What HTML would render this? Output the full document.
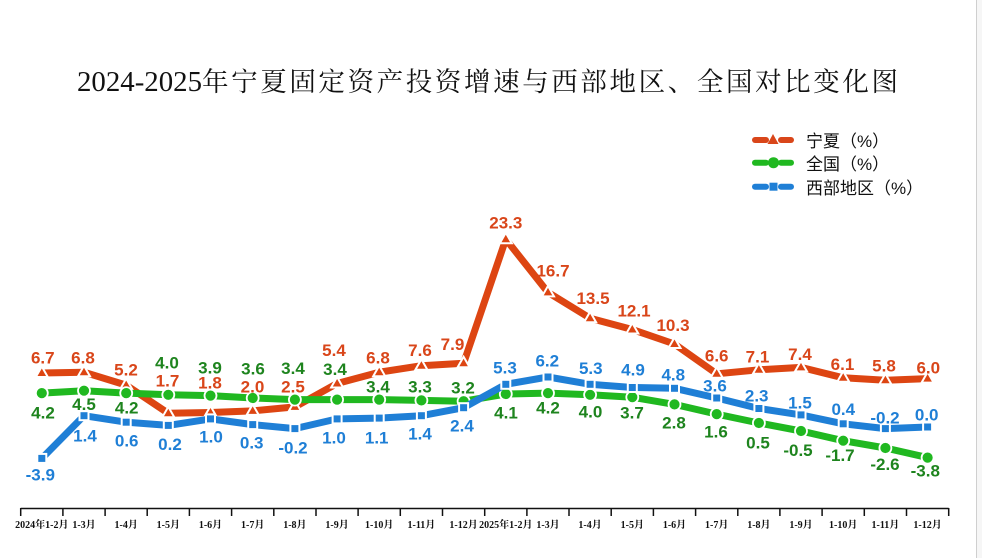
<!DOCTYPE html>
<html>
<head>
<meta charset="utf-8">
<style>
html,body{margin:0;padding:0;background:#fff;}
svg{display:block;}
.lb{font-family:"Liberation Sans","Noto Sans CJK SC",sans-serif;font-weight:bold;font-size:17px;text-anchor:middle;}
.o{fill:#d9461a;}
.g{fill:#1e841e;}
.b{fill:#1f7fd6;}
.tk{font-family:"Liberation Serif","Noto Serif CJK SC",serif;font-weight:bold;font-size:10px;text-anchor:middle;fill:#111;}
.lg{font-family:"Liberation Sans","Noto Sans CJK SC",sans-serif;font-size:17px;fill:#111;}
</style>
</head>
<body>
<svg width="982" height="558" viewBox="0 0 982 558" xmlns="http://www.w3.org/2000/svg">
<rect x="0" y="0" width="982" height="558" fill="#fff"/>
<rect x="977" y="0" width="5" height="558" fill="#f6f6f6"/>
<line x1="976.5" y1="0" x2="976.5" y2="558" stroke="#cfcfcf" stroke-width="1"/>

<!-- Title -->
<text x="77" y="91" font-family="'Liberation Serif','Noto Serif CJK SC',serif" font-size="29" fill="#111" textLength="125" lengthAdjust="spacingAndGlyphs">2024-2025</text>
<text x="202" y="91" font-family="'Liberation Serif','Noto Serif CJK SC',serif" font-size="26.5" fill="#111" textLength="696" lengthAdjust="spacing">年宁夏固定资产投资增速与西部地区、全国对比变化图</text>

<!-- Legend -->
<g stroke-linecap="round" stroke-width="6">
<line x1="755" y1="140" x2="766" y2="140" stroke="#d9461a"/>
<line x1="781" y1="140" x2="791" y2="140" stroke="#d9461a"/>
<polygon points="773,134 778.5,144 767.5,144" fill="#d9461a" stroke="none"/>
<line x1="755" y1="162.7" x2="766" y2="162.7" stroke="#20b820"/>
<line x1="781" y1="162.7" x2="791" y2="162.7" stroke="#20b820"/>
<circle cx="773.5" cy="162.7" r="5.5" fill="#20b820" stroke="none"/>
<line x1="755" y1="186.7" x2="766" y2="186.7" stroke="#1f7fd6"/>
<line x1="781" y1="186.7" x2="791" y2="186.7" stroke="#1f7fd6"/>
<rect x="769.5" y="182.7" width="8" height="8" fill="#1f7fd6" stroke="none"/>
</g>
<text class="lg" x="806" y="147">宁夏（%）</text>
<text class="lg" x="806" y="170">全国（%）</text>
<text class="lg" x="806" y="194">西部地区（%）</text>

<!-- Axis -->
<line x1="20.7" y1="508.5" x2="948.7" y2="508.5" stroke="#111" stroke-width="1.6"/>
<g stroke="#111" stroke-width="1.5">
<line x1="20.7" y1="508" x2="20.7" y2="516"/>
<line x1="62.9" y1="508" x2="62.9" y2="516"/>
<line x1="105.1" y1="508" x2="105.1" y2="516"/>
<line x1="147.2" y1="508" x2="147.2" y2="516"/>
<line x1="189.4" y1="508" x2="189.4" y2="516"/>
<line x1="231.6" y1="508" x2="231.6" y2="516"/>
<line x1="273.8" y1="508" x2="273.8" y2="516"/>
<line x1="316.0" y1="508" x2="316.0" y2="516"/>
<line x1="358.1" y1="508" x2="358.1" y2="516"/>
<line x1="400.3" y1="508" x2="400.3" y2="516"/>
<line x1="442.5" y1="508" x2="442.5" y2="516"/>
<line x1="484.7" y1="508" x2="484.7" y2="516"/>
<line x1="526.9" y1="508" x2="526.9" y2="516"/>
<line x1="569.0" y1="508" x2="569.0" y2="516"/>
<line x1="611.2" y1="508" x2="611.2" y2="516"/>
<line x1="653.4" y1="508" x2="653.4" y2="516"/>
<line x1="695.6" y1="508" x2="695.6" y2="516"/>
<line x1="737.8" y1="508" x2="737.8" y2="516"/>
<line x1="779.9" y1="508" x2="779.9" y2="516"/>
<line x1="822.1" y1="508" x2="822.1" y2="516"/>
<line x1="864.3" y1="508" x2="864.3" y2="516"/>
<line x1="906.5" y1="508" x2="906.5" y2="516"/>
<line x1="948.7" y1="508" x2="948.7" y2="516"/>
</g>
<g class="tk">
<text x="41.8" y="528">2024年1-2月</text>
<text x="84.0" y="528">1-3月</text>
<text x="126.2" y="528">1-4月</text>
<text x="168.3" y="528">1-5月</text>
<text x="210.5" y="528">1-6月</text>
<text x="252.7" y="528">1-7月</text>
<text x="294.9" y="528">1-8月</text>
<text x="337.1" y="528">1-9月</text>
<text x="379.2" y="528">1-10月</text>
<text x="421.4" y="528">1-11月</text>
<text x="463.6" y="528">1-12月</text>
<text x="505.8" y="528">2025年1-2月</text>
<text x="548.0" y="528">1-3月</text>
<text x="590.1" y="528">1-4月</text>
<text x="632.3" y="528">1-5月</text>
<text x="674.5" y="528">1-6月</text>
<text x="716.7" y="528">1-7月</text>
<text x="758.9" y="528">1-8月</text>
<text x="801.0" y="528">1-9月</text>
<text x="843.2" y="528">1-10月</text>
<text x="885.4" y="528">1-11月</text>
<text x="927.6" y="528">1-12月</text>
</g>

<!-- Orange series (宁夏) -->
<polyline fill="none" stroke="#dd4512" stroke-width="7" stroke-linejoin="round" points="41.8,373.0 84.0,372.2 126.2,385.1 168.3,413.3 210.5,412.5 252.7,410.9 294.9,406.9 337.1,383.5 379.2,372.2 421.4,365.7 463.6,363.3 505.8,239.2 548.0,292.4 590.1,318.2 632.3,329.5 674.5,344.0 716.7,373.8 758.9,369.8 801.0,367.4 843.2,377.8 885.4,380.3 927.6,378.6"/>
<g fill="#dd4512" stroke="#fff" stroke-width="2">
<polygon points="41.8,366.5 47.8,377 35.8,377"/>
<polygon points="84.0,365.7 90.0,376.2 78.0,376.2"/>
<polygon points="126.2,378.6 132.2,389.1 120.2,389.1"/>
<polygon points="168.3,406.8 174.3,417.3 162.3,417.3"/>
<polygon points="210.5,406.0 216.5,416.5 204.5,416.5"/>
<polygon points="252.7,404.4 258.7,414.9 246.7,414.9"/>
<polygon points="294.9,400.4 300.9,410.9 288.9,410.9"/>
<polygon points="337.1,377.0 343.1,387.5 331.1,387.5"/>
<polygon points="379.2,365.7 385.2,376.2 373.2,376.2"/>
<polygon points="421.4,359.2 427.4,369.7 415.4,369.7"/>
<polygon points="463.6,356.8 469.6,367.3 457.6,367.3"/>
<polygon points="505.8,232.7 511.8,243.2 499.8,243.2"/>
<polygon points="548.0,285.9 554.0,296.4 542.0,296.4"/>
<polygon points="590.1,311.7 596.1,322.2 584.1,322.2"/>
<polygon points="632.3,323.0 638.3,333.5 626.3,333.5"/>
<polygon points="674.5,337.5 680.5,348.0 668.5,348.0"/>
<polygon points="716.7,367.3 722.7,377.8 710.7,377.8"/>
<polygon points="758.9,363.3 764.9,373.8 752.9,373.8"/>
<polygon points="801.0,360.9 807.0,371.4 795.0,371.4"/>
<polygon points="843.2,371.3 849.2,381.8 837.2,381.8"/>
<polygon points="885.4,373.8 891.4,384.3 879.4,384.3"/>
<polygon points="927.6,372.1 933.6,382.6 921.6,382.6"/>
</g>

<!-- Green series (全国) -->
<polyline fill="none" stroke="#20b820" stroke-width="7" stroke-linejoin="round" points="41.8,393.1 84.0,390.7 126.2,393.1 168.3,394.8 210.5,395.6 252.7,398.0 294.9,399.6 337.1,399.6 379.2,399.6 421.4,400.4 463.6,401.2 505.8,394.0 548.0,393.1 590.1,394.8 632.3,397.2 674.5,404.4 716.7,414.1 758.9,423.0 801.0,431.0 843.2,440.7 885.4,448.0 927.6,457.6"/>
<g fill="#20b820" stroke="#fff" stroke-width="1.8">
<circle cx="41.8" cy="393.1" r="6"/>
<circle cx="84.0" cy="390.7" r="6"/>
<circle cx="126.2" cy="393.1" r="6"/>
<circle cx="168.3" cy="394.8" r="6"/>
<circle cx="210.5" cy="395.6" r="6"/>
<circle cx="252.7" cy="398.0" r="6"/>
<circle cx="294.9" cy="399.6" r="6"/>
<circle cx="337.1" cy="399.6" r="6"/>
<circle cx="379.2" cy="399.6" r="6"/>
<circle cx="421.4" cy="400.4" r="6"/>
<circle cx="463.6" cy="401.2" r="6"/>
<circle cx="505.8" cy="394.0" r="6"/>
<circle cx="548.0" cy="393.1" r="6"/>
<circle cx="590.1" cy="394.8" r="6"/>
<circle cx="632.3" cy="397.2" r="6"/>
<circle cx="674.5" cy="404.4" r="6"/>
<circle cx="716.7" cy="414.1" r="6"/>
<circle cx="758.9" cy="423.0" r="6"/>
<circle cx="801.0" cy="431.0" r="6"/>
<circle cx="843.2" cy="440.7" r="6"/>
<circle cx="885.4" cy="448.0" r="6"/>
<circle cx="927.6" cy="457.6" r="6"/>
</g>

<!-- Blue series (西部地区) -->
<polyline fill="none" stroke="#1f7fd6" stroke-width="7" stroke-linejoin="round" points="41.8,458.4 84.0,415.7 126.2,422.2 168.3,425.4 210.5,418.9 252.7,424.6 294.9,428.6 337.1,418.9 379.2,418.1 421.4,415.7 463.6,407.7 505.8,384.3 548.0,377.0 590.1,384.3 632.3,387.5 674.5,388.3 716.7,398.0 758.9,408.5 801.0,414.9 843.2,423.8 885.4,428.6 927.6,427.0"/>
<g fill="#1f7fd6" stroke="#fff" stroke-width="2">
<rect x="37.3" y="453.9" width="9" height="9"/>
<rect x="79.5" y="411.2" width="9" height="9"/>
<rect x="121.7" y="417.7" width="9" height="9"/>
<rect x="163.8" y="420.9" width="9" height="9"/>
<rect x="206.0" y="414.4" width="9" height="9"/>
<rect x="248.2" y="420.1" width="9" height="9"/>
<rect x="290.4" y="424.1" width="9" height="9"/>
<rect x="332.6" y="414.4" width="9" height="9"/>
<rect x="374.7" y="413.6" width="9" height="9"/>
<rect x="416.9" y="411.2" width="9" height="9"/>
<rect x="459.1" y="403.2" width="9" height="9"/>
<rect x="501.3" y="379.8" width="9" height="9"/>
<rect x="543.5" y="372.5" width="9" height="9"/>
<rect x="585.6" y="379.8" width="9" height="9"/>
<rect x="627.8" y="383.0" width="9" height="9"/>
<rect x="670.0" y="383.8" width="9" height="9"/>
<rect x="712.2" y="393.5" width="9" height="9"/>
<rect x="754.4" y="404.0" width="9" height="9"/>
<rect x="796.5" y="410.4" width="9" height="9"/>
<rect x="838.7" y="419.3" width="9" height="9"/>
<rect x="880.9" y="424.1" width="9" height="9"/>
<rect x="923.1" y="422.5" width="9" height="9"/>
</g>

<!-- Orange labels -->
<g class="lb o">
<text x="42.8" y="363.3">6.7</text>
<text x="83" y="363.3">6.8</text>
<text x="126" y="375.7">5.2</text>
<text x="167.5" y="386.7">1.7</text>
<text x="210" y="388.3">1.8</text>
<text x="252.5" y="392.3">2.0</text>
<text x="293" y="392.7">2.5</text>
<text x="334" y="356">5.4</text>
<text x="378" y="363.3">6.8</text>
<text x="420" y="356">7.6</text>
<text x="452.5" y="350">7.9</text>
<text x="505.8" y="228.3">23.3</text>
<text x="553" y="276.7">16.7</text>
<text x="593" y="304">13.5</text>
<text x="634" y="316.7">12.1</text>
<text x="673" y="331">10.3</text>
<text x="716.7" y="361.7">6.6</text>
<text x="757.5" y="362.3">7.1</text>
<text x="800" y="360">7.4</text>
<text x="842.5" y="370">6.1</text>
<text x="884" y="371.7">5.8</text>
<text x="928.3" y="373.3">6.0</text>
</g>

<!-- Green labels -->
<g class="lb g">
<text x="43" y="418.3">4.2</text>
<text x="84" y="410">4.5</text>
<text x="126.7" y="413.3">4.2</text>
<text x="167" y="368.3">4.0</text>
<text x="210" y="373.3">3.9</text>
<text x="253" y="374.3">3.6</text>
<text x="293" y="374">3.4</text>
<text x="335" y="375">3.4</text>
<text x="378" y="392.7">3.4</text>
<text x="420" y="392.7">3.3</text>
<text x="463" y="393.3">3.2</text>
<text x="506" y="418.3">4.1</text>
<text x="548" y="413.3">4.2</text>
<text x="590.5" y="417.3">4.0</text>
<text x="632" y="418.3">3.7</text>
<text x="674" y="428.3">2.8</text>
<text x="716" y="437.3">1.6</text>
<text x="758" y="448.3">0.5</text>
<text x="798" y="456">-0.5</text>
<text x="840" y="461">-1.7</text>
<text x="885" y="470">-2.6</text>
<text x="925.3" y="476.7">-3.8</text>
</g>

<!-- Blue labels -->
<g class="lb b">
<text x="40.3" y="480.7">-3.9</text>
<text x="85" y="441.7">1.4</text>
<text x="126.7" y="446.7">0.6</text>
<text x="170" y="450">0.2</text>
<text x="211" y="442.7">1.0</text>
<text x="251.7" y="448.3">0.3</text>
<text x="293" y="453.3">-0.2</text>
<text x="334" y="443.3">1.0</text>
<text x="376.7" y="443.3">1.1</text>
<text x="420" y="439.3">1.4</text>
<text x="462" y="431.7">2.4</text>
<text x="505" y="373.3">5.3</text>
<text x="547.3" y="366.7">6.2</text>
<text x="590.8" y="374">5.3</text>
<text x="633" y="375.7">4.9</text>
<text x="673.3" y="380.7">4.8</text>
<text x="715" y="391.7">3.6</text>
<text x="756.7" y="401.7">2.3</text>
<text x="800" y="408.3">1.5</text>
<text x="843.3" y="415">0.4</text>
<text x="885" y="423.3">-0.2</text>
<text x="926.7" y="420.7">0.0</text>
</g>
</svg>
</body>
</html>
